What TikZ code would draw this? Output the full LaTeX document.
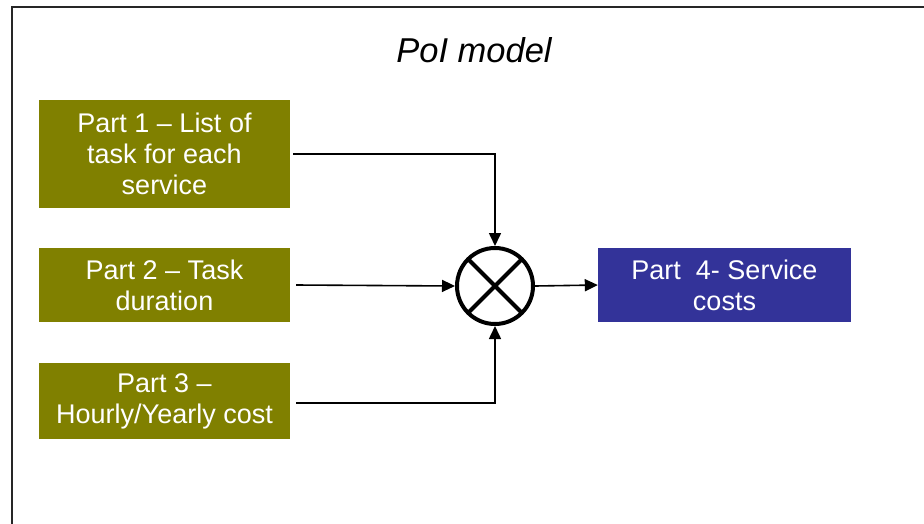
\documentclass[tikz,border=0pt]{standalone}
\usepackage{fontspec}
\setmainfont{Liberation Sans}
\usetikzlibrary{arrows.meta,calc}
\definecolor{olivebox}{HTML}{808000}
\definecolor{bluebox}{HTML}{333399}
\begin{document}
\begin{tikzpicture}[x=1pt,y=-1pt,
  partbox/.style={fill=olivebox,draw=none,text=white,minimum width=251pt,align=center,
    font=\fontsize{27}{31}\selectfont,inner sep=0pt},
  resbox/.style={fill=bluebox,draw=none,text=white,minimum width=253pt,minimum height=74pt,align=center,
    font=\fontsize{27}{31}\selectfont,inner sep=0pt},
  conn/.style={line width=1.6pt,-{Triangle[length=13pt,width=12pt]}},
  mult/.style={circle,draw,line width=4pt,minimum size=76pt,inner sep=0pt}]
\useasboundingbox (0,0) rectangle (924,523);
\draw[line width=2pt,draw=black!85] (12,530) -- (12,7) -- (930,7);
\node[font=\itshape\fontsize{34.5}{40}\selectfont] (title) at (474,50) {PoI model};
\node[partbox,minimum height=108pt] (p1) at (164.5,154) {Part 1 -- List of\\task for each\\service};
\node[partbox,minimum height=74pt] (p2) at (164.5,285) {Part 2 -- Task\\duration};
\node[partbox,minimum height=76pt] (p3) at (164.5,401) {Part 3 --\\Hourly/Yearly cost};
\node[resbox] (p4) at (724.5,285) {Part\ \ 4- Service\\costs};
\node[mult] (m) at (495,286) {};
\draw[line width=4pt] ($(m.center)+(-26.5,-26.5)$) -- ($(m.center)+(26.5,26.5)$);
\draw[line width=4pt] ($(m.center)+(-26.5,26.5)$) -- ($(m.center)+(26.5,-26.5)$);
\draw[conn] ($(p1.east)+(3,0)$) -| (m.north);
\draw[conn] ($(p2.east)+(6,0)$) -- (m.west);
\draw[conn] ($(p3.east)+(6,2)$) -| (m.south);
\draw[conn] (m.east) -- (p4.west);
\end{tikzpicture}
\end{document}
